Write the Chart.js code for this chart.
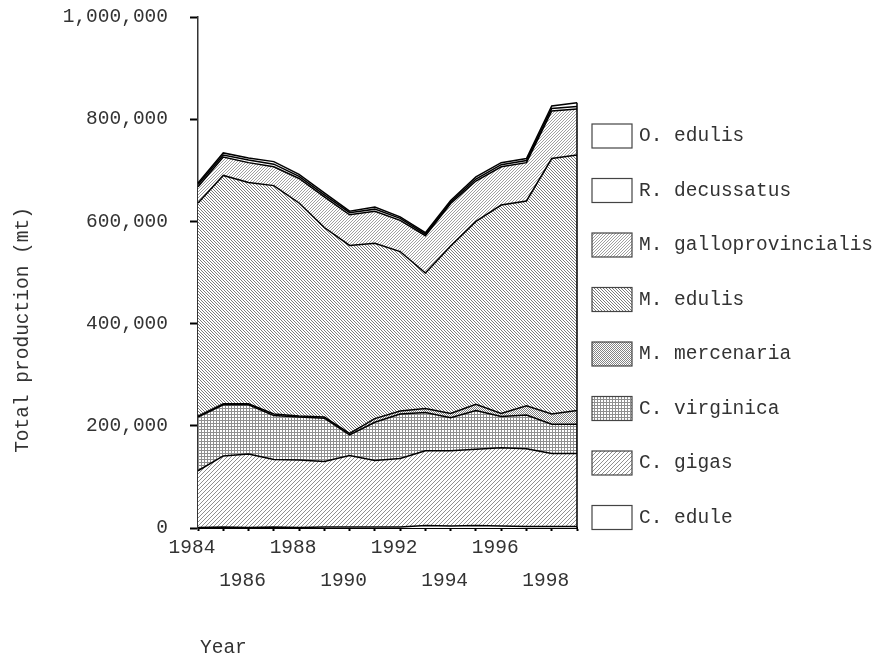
<!DOCTYPE html>
<html>
<head>
<meta charset="utf-8">
<script src="https://cdn.jsdelivr.net/npm/chart.js@4.4.1/dist/chart.umd.min.js"></script>
<style>
  html, body { margin: 0; padding: 0; background: #fff; }
</style>
</head>
<body>
<canvas id="grafico" width="882" height="658"></canvas>
<script>
// dados (toneladas)
const anos = ['1984','1985','1986','1987','1988','1989','1990','1991','1992','1993','1994','1995','1996','1997','1998','1999'];
const cEdule      = [1000,2000,1000,2000,1000,2000,2000,2000,2000,5000,4000,5000,4000,3000,3000,3000];
const cGigas      = [111000,139000,144000,132000,132000,128000,140000,130000,134000,146000,147000,149000,153000,152000,143000,143000];
const cVirginica  = [105000,100000,96000,86000,84000,85000,40000,75000,87000,75000,65000,76000,61000,66000,57000,57000];
const mMercenaria = [2000,2000,2000,3000,2000,2000,3000,7000,6000,8000,8000,12000,6000,18000,20000,27000];
const mEdulis     = [417000,447000,433000,447000,417000,371000,368000,343000,312000,265000,328000,358000,408000,401000,500000,500000];
const mGallo      = [32000,36000,39000,37000,48000,60000,60000,63000,61000,73000,83000,79000,75000,75000,93000,90000];
const rDecussatus = [4000,4000,5000,5000,4000,4000,4000,4000,4000,3000,3000,4000,4000,4000,5000,5000];
const oEdulis     = [3000,4000,4000,5000,4000,4000,3000,4000,3000,3000,3000,4000,4000,4000,5000,7000];
const ticksY = [0, 200000, 400000, 600000, 800000, 1000000];

const fonte = "'Courier New', 'Liberation Mono', monospace";
const corTexto = '#333';
const canvas = document.getElementById('grafico');
const contexto = canvas.getContext('2d');

function padrao(tam, pixels, cor) {
    const c = document.createElement('canvas');
    c.width = tam; c.height = tam;
    const g = c.getContext('2d');
    g.fillStyle = '#fff';
    g.fillRect(0, 0, tam, tam);
    g.fillStyle = cor;
    pixels.forEach(p => g.fillRect(p[0], p[1], 1, 1));
    return contexto.createPattern(c, 'repeat');
}

const branco = '#ffffff';
const padraoGigas = padrao(4, [[3,0],[2,1],[1,2],[0,3]], '#909090');
const padraoVirginica = padrao(3, [[0,0],[1,0],[2,0],[0,1],[0,2]], '#8f8f8f');
const padraoMercenaria = padrao(2, [[0,0],[1,1]], '#858585');
const padraoEdulis = padrao(3, [[0,0],[1,1],[2,2]], '#7c7c7c');
const padraoGallo = padrao(3, [[2,0],[1,1],[0,2]], '#a0a0a0');

const series = [
    { nome: 'C. edule', valores: cEdule, cor: branco },
    { nome: 'C. gigas', valores: cGigas, cor: padraoGigas },
    { nome: 'C. virginica', valores: cVirginica, cor: padraoVirginica },
    { nome: 'M. mercenaria', valores: mMercenaria, cor: padraoMercenaria },
    { nome: 'M. edulis', valores: mEdulis, cor: padraoEdulis },
    { nome: 'M. galloprovincialis', valores: mGallo, cor: padraoGallo },
    { nome: 'R. decussatus', valores: rDecussatus, cor: branco },
    { nome: 'O. edulis', valores: oEdulis, cor: branco },
];

const datasets = series.map((s, i) => ({
    label: s.nome,
    data: s.valores,
    backgroundColor: s.cor,
    borderColor: '#000',
    borderWidth: 1.5,
    pointRadius: 0,
    tension: 0,
    fill: i === 0 ? 'origin' : '-1',
}));

// legenda, titulos e borda direita desenhados a mao
const extras = {
    id: 'extras',
    afterDatasetsDraw(chart) {
        const ctx = chart.ctx;
        const x = chart.scales.x, y = chart.scales.y;
        const ult = anos.length - 1;
        const total = series.reduce((soma, s) => soma + s.valores[ult], 0);
        ctx.save();
        ctx.strokeStyle = '#000';
        ctx.lineWidth = 1.5;
        ctx.beginPath();
        ctx.moveTo(x.getPixelForValue(ult), y.getPixelForValue(0));
        ctx.lineTo(x.getPixelForValue(ult), y.getPixelForValue(total));
        ctx.stroke();
        ctx.restore();
    },
    afterDraw(chart) {
        const ctx = chart.ctx;
        const area = chart.chartArea;
        ctx.save();
        ctx.font = '19.5px ' + fonte;
        ctx.textBaseline = 'middle';

        const caixaX = area.right + 15;
        const inverso = series.slice().reverse();
        inverso.forEach((s, i) => {
            const cy = 136 + i * 54.5;
            ctx.fillStyle = s.cor;
            ctx.fillRect(caixaX, cy - 12, 40, 24);
            ctx.strokeStyle = '#444';
            ctx.lineWidth = 1.2;
            ctx.strokeRect(caixaX, cy - 12, 40, 24);
            ctx.fillStyle = corTexto;
            ctx.textAlign = 'left';
            ctx.fillText(s.nome, caixaX + 47, cy);
        });

        ctx.fillStyle = corTexto;
        ctx.textAlign = 'left';
        ctx.fillText('Year', area.left + 2, 648);

        ctx.translate(23, 330);
        ctx.rotate(-Math.PI / 2);
        ctx.textAlign = 'center';
        ctx.fillText('Total production (mt)', 0, 0);
        ctx.restore();
    }
};

const meuGrafico = new Chart(contexto, {
    type: 'line',
    data: { labels: anos, datasets: datasets },
    options: {
        responsive: false,
        animation: false,
        layout: { padding: { top: 17, right: 305, left: 0, bottom: 0 } },
        plugins: {
            legend: { display: false },
            tooltip: { enabled: false },
            filler: { drawTime: 'beforeDatasetsDraw' },
        },
        scales: {
            x: {
                offset: false,
                afterFit: (eixo) => { eixo.height = 130; },
                grid: { drawOnChartArea: false, tickLength: 3, tickWidth: 2, tickColor: '#000' },
                border: { display: true, color: '#000', width: 2 },
                ticks: {
                    autoSkip: false,
                    maxRotation: 0,
                    padding: 0,
                    labelOffset: -6,
                    color: corTexto,
                    font: { family: fonte, size: 19.5, lineHeight: 1.7 },
                    callback: function (valor, indice) {
                        const ano = Number(anos[indice]);
                        if (ano % 2 === 1) return '';
                        return ((ano - 1984) % 4 === 0) ? [String(ano), ''] : ['', String(ano)];
                    },
                },
            },
            y: {
                stacked: true,
                min: 0,
                max: 1000000,
                afterFit: (eixo) => {
                    eixo.width = 198;
                    eixo.paddingTop = 0;
                    eixo.paddingBottom = 0;
                },
                afterBuildTicks: (eixo) => { eixo.ticks = ticksY.map(v => ({ value: v })); },
                grid: { drawOnChartArea: false, tickLength: 8, tickWidth: 2, tickColor: '#000' },
                border: { display: true, color: '#333', width: 1.5 },
                ticks: {
                    padding: 22,
                    color: corTexto,
                    font: { family: fonte, size: 19.5 },
                    callback: (valor) => valor.toLocaleString('en-US'),
                },
            },
        },
    },
    plugins: [extras],
});
</script>
</body>
</html>
